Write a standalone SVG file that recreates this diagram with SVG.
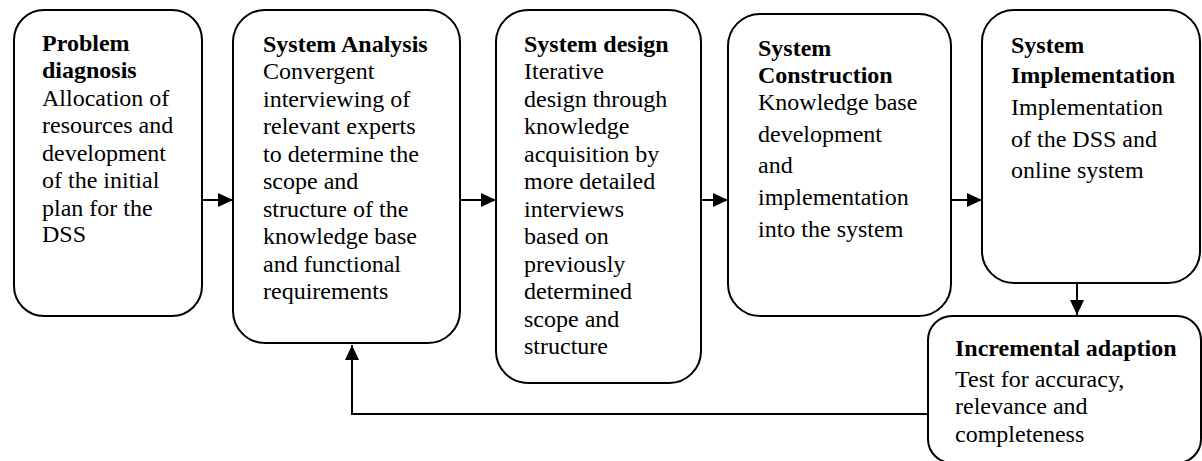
<svg xmlns="http://www.w3.org/2000/svg" width="1202" height="461" viewBox="0 0 1202 461">
<defs>
<style>
.box{fill:#fff;stroke:#000;stroke-width:2}
.t{font-family:"Liberation Serif","Times New Roman",serif;font-size:24px;fill:#000}
.h{font-weight:bold}
.c{fill:none;stroke:#000;stroke-width:2}
</style>
<marker id="ah" markerUnits="userSpaceOnUse" markerWidth="16" markerHeight="16" viewBox="0 0 16 16" refX="15" refY="8" orient="auto">
<path d="M0,1 L15,8 L0,15 Z" fill="#000"/>
</marker>
</defs>
<rect width="1202" height="461" fill="#fff"/>
<g id="connectors">
<line class="c" x1="202" y1="200" x2="233" y2="200" marker-end="url(#ah)"/>
<line class="c" x1="460" y1="200" x2="496" y2="200" marker-end="url(#ah)"/>
<line class="c" x1="701" y1="200" x2="728" y2="200" marker-end="url(#ah)"/>
<line class="c" x1="951" y1="200" x2="982" y2="200" marker-end="url(#ah)"/>
<line class="c" x1="1077" y1="283" x2="1077" y2="315" marker-end="url(#ah)"/>
<polyline class="c" points="928,414 352,414 352,345" marker-end="url(#ah)"/>
</g>
<g id="problem-diagnosis">
<rect class="box" x="14" y="10" width="188" height="306" rx="30" ry="30"/>
<text class="t" x="42"><tspan class="h" x="42" y="51">Problem</tspan><tspan class="h" x="42" y="78">diagnosis</tspan><tspan x="42" y="105.5">Allocation of</tspan><tspan x="42" y="133">resources and</tspan><tspan x="42" y="160.5">development</tspan><tspan x="42" y="188">of the initial</tspan><tspan x="42" y="215.5">plan for the</tspan><tspan x="42" y="242">DSS</tspan></text>
</g>
<g id="system-analysis">
<rect class="box" x="233" y="10" width="227" height="333" rx="32" ry="32"/>
<text class="t"><tspan class="h" x="263" y="51.5">System Analysis</tspan><tspan x="263" y="79">Convergent</tspan><tspan x="263" y="106.5">interviewing of</tspan><tspan x="263" y="134">relevant experts</tspan><tspan x="263" y="161.5">to determine the</tspan><tspan x="263" y="189">scope and</tspan><tspan x="263" y="216.5">structure of the</tspan><tspan x="263" y="244">knowledge base</tspan><tspan x="263" y="271.5">and functional</tspan><tspan x="263" y="299">requirements</tspan></text>
</g>
<g id="system-design">
<rect class="box" x="496" y="10" width="205" height="373" rx="32" ry="32"/>
<text class="t"><tspan class="h" x="524" y="51.5">System design</tspan><tspan x="524" y="79">Iterative</tspan><tspan x="524" y="106.5">design through</tspan><tspan x="524" y="134">knowledge</tspan><tspan x="524" y="161.5">acquisition by</tspan><tspan x="524" y="189">more detailed</tspan><tspan x="524" y="216.5">interviews</tspan><tspan x="524" y="244">based on</tspan><tspan x="524" y="271.5">previously</tspan><tspan x="524" y="299">determined</tspan><tspan x="524" y="326.5">scope and</tspan><tspan x="524" y="354">structure</tspan></text>
</g>
<g id="system-construction">
<rect class="box" x="728" y="14" width="223" height="302" rx="32" ry="32"/>
<text class="t"><tspan class="h" x="758" y="56">System</tspan><tspan class="h" x="758" y="83">Construction</tspan><tspan x="758" y="110">Knowledge base</tspan><tspan x="758" y="141.7">development</tspan><tspan x="758" y="173.4">and</tspan><tspan x="758" y="205.1">implementation</tspan><tspan x="758" y="236.8">into the system</tspan></text>
</g>
<g id="system-implementation">
<rect class="box" x="982" y="10" width="218" height="273" rx="32" ry="32"/>
<text class="t"><tspan class="h" x="1011" y="53">System</tspan><tspan class="h" x="1011" y="83.3">Implementation</tspan><tspan x="1011" y="115">Implementation</tspan><tspan x="1011" y="146.7">of the DSS and</tspan><tspan x="1011" y="178.4">online system</tspan></text>
</g>
<g id="incremental-adaption">
<rect class="box" x="928" y="316" width="273" height="147" rx="24" ry="24"/>
<text class="t"><tspan class="h" x="955" y="356">Incremental adaption</tspan><tspan x="955" y="386.7">Test for accuracy,</tspan><tspan x="955" y="414.2">relevance and</tspan><tspan x="955" y="441.7">completeness</tspan></text>
</g>
</svg>
